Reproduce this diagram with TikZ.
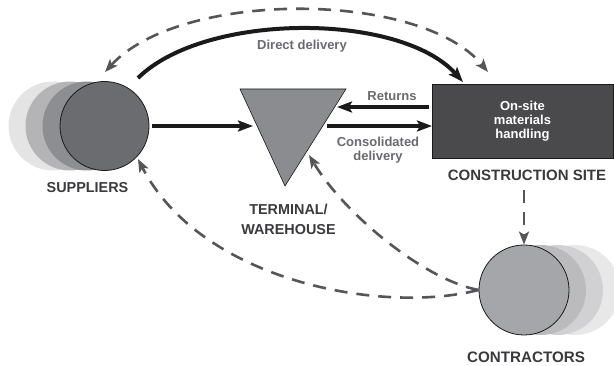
\documentclass[tikz,border=0pt]{standalone}
\usepackage{fontspec}
\setmainfont{Liberation Sans}
\usetikzlibrary{arrows.meta}
\definecolor{arrowblack}{HTML}{1A1A1A}
\definecolor{dashgray}{HTML}{55565A}
\definecolor{labeldark}{HTML}{3A3A3D}
\definecolor{labelgray}{HTML}{6A6A6E}
\definecolor{boxfill}{HTML}{4A4A4D}
\definecolor{supA}{HTML}{6B6C70}
\definecolor{supB}{HTML}{8D8E91}
\definecolor{supC}{HTML}{B4B4B6}
\definecolor{supD}{HTML}{E4E4E5}
\definecolor{conA}{HTML}{A5A6A9}
\definecolor{conB}{HTML}{BBBBBD}
\definecolor{conC}{HTML}{D1D1D3}
\definecolor{conD}{HTML}{E8E8E9}
\definecolor{trifill}{HTML}{8B8C8F}
\begin{document}
\begin{tikzpicture}[x=1pt,y=-1pt,
  solidarrow/.style={draw=arrowblack, line width=4pt, -{Stealth[length=15pt,width=11pt,inset=3pt]}},
  dasharrow/.style={draw=dashgray, line width=2.6pt, dash pattern=on 13pt off 9pt, -{Stealth[length=13pt,width=10pt,inset=3pt]}},
  bigcap/.style={font=\bfseries\fontsize{14.4}{19.5}\selectfont, text=labeldark, align=center, inner sep=0pt},
  smalllab/.style={font=\bfseries\fontsize{13}{14}\selectfont, text=labelgray, align=center, inner sep=0pt},
  blob/.style={circle, minimum size=89pt, inner sep=0pt},
]
\useasboundingbox (0,0) rectangle (614,366);

% suppliers
\fill[supD] (53,126) circle[radius=44.5pt];
\fill[supC] (70,126) circle[radius=44.5pt];
\fill[supB] (87,126) circle[radius=44.5pt];
\node[blob, fill=supA, draw=arrowblack, line width=0.8pt] (sup) at (104.5,126) {};
\node[bigcap] (suplab) at (87.5,188) {SUPPLIERS};

% contractors
\fill[conD] (575,290) circle[radius=45pt];
\fill[conC] (558,290) circle[radius=45pt];
\fill[conB] (541,290) circle[radius=45pt];
\node[blob, minimum size=90pt, fill=conA, draw=arrowblack, line width=0.8pt] (con) at (524,290) {};
\node[bigcap, font=\bfseries\fontsize{15.2}{18}\selectfont] (conlab) at (526,357) {CONTRACTORS};

% warehouse triangle
\coordinate (whTL) at (240,89);
\coordinate (whTR) at (346,89);
\coordinate (whB) at (285,186);
\fill[trifill, draw=arrowblack, line width=0.6pt] (whTL) -- (whTR) -- (whB) -- cycle;
\node[bigcap] (whlab) at (288.5,219.5) {TERMINAL/\\WAREHOUSE};

% construction site box
\node[rectangle, minimum width=181pt, minimum height=74pt, fill=boxfill, draw=arrowblack, line width=0.6pt,
      font=\bfseries\fontsize{13}{14}\selectfont, text=white, align=center] (site) at (522.5,121)
      {On-site\\materials\\handling};
\node[bigcap, font=\bfseries\fontsize{15}{18}\selectfont] (sitelab) at (527,175) {CONSTRUCTION SITE};

% connection points
\coordinate (supE) at (152,126);
\coordinate (whIn) at (253,126);
\coordinate (retS) at (429,107);
\coordinate (retE) at (337,107);
\coordinate (conS) at (327,126);
\coordinate (conE) at (432,126);
\coordinate (dirS) at (138,78);
\coordinate (dirE) at (463,82);
\coordinate (topL) at (105,72);
\coordinate (topR) at (488,72);
\coordinate (siteBot) at (524,190);
\coordinate (supIn) at (138,159);
\coordinate (whIn2) at (309,155);

% solid arrows
\draw[solidarrow] (supE) -- (whIn);
\draw[solidarrow] (retS) -- (retE);
\draw[solidarrow] (conS) -- (conE);
\draw[solidarrow] (dirS) .. controls (205,12) and (400,12) .. (dirE);

% dashed arrows
\draw[dasharrow, {Stealth[length=13pt,width=10pt,inset=3pt]}-{Stealth[length=13pt,width=10pt,inset=3pt]}]
  (topL) .. controls (180,-10) and (420,-10) .. (topR);
\draw[dasharrow] (siteBot) -- (con.north);
\draw[dasharrow] (con.west) .. controls (380,315) and (200,280) .. (supIn);
\draw[dasharrow] (con.west) .. controls (425,280) and (345,215) .. (whIn2);

% labels
\node[smalllab] (dirlab) at (302,46) {Direct delivery};
\node[smalllab] (retlab) at (392,96) {Returns};
\node[smalllab] (conslab) at (378,150) {Consolidated\\delivery};
\end{tikzpicture}
\end{document}
